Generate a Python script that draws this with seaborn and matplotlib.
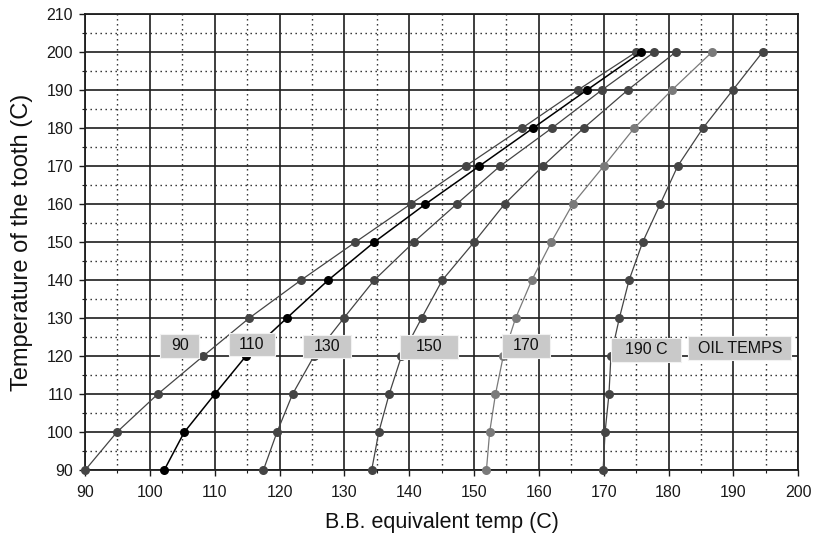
import matplotlib
matplotlib.use("Agg")
import matplotlib.pyplot as plt
from matplotlib.patches import Rectangle
from matplotlib.ticker import MultipleLocator
import numpy as np
import pandas as pd
import seaborn as sns

# ---- data ----
tooth_temp = [90, 100, 110, 120, 130, 140, 150, 160, 170, 180, 190, 200]
bb_oil90 = [90.0, 94.9, 101.2, 108.2, 115.3, 123.3, 131.7, 140.2, 148.7, 157.4, 166.0, 175.0]
bb_oil110 = [102.2, 105.3, 110.0, 114.8, 121.1, 127.5, 134.6, 142.5, 150.8, 159.1, 167.4, 175.8]
bb_oil130 = [117.5, 119.6, 122.0, 125.3, 129.9, 134.6, 140.7, 147.3, 154.0, 162.0, 169.7, 177.8]
bb_oil150 = [134.2, 135.3, 136.9, 138.8, 141.9, 145.1, 150.0, 154.7, 160.6, 166.9, 173.7, 181.1]
bb_oil170 = [151.9, 152.4, 153.3, 154.5, 156.4, 158.9, 161.9, 165.2, 170.0, 174.7, 180.5, 186.7]
bb_oil190 = [169.9, 170.2, 170.8, 171.1, 172.4, 173.9, 176.0, 178.7, 181.4, 185.3, 189.9, 194.5]
oil_temps = [90, 110, 130, 150, 170, 190]
series = [bb_oil90, bb_oil110, bb_oil130, bb_oil150, bb_oil170, bb_oil190]

label_texts = ["90", "110", "130", "150", "170", "190 C", "OIL TEMPS"]
label_x = [104.6, 115.7, 127.3, 143.0, 158.0, 176.5, 191.0]
label_y = [122.7, 123.1, 122.6, 122.5, 122.7, 121.7, 122.1]
label_w = [6.0, 7.1, 7.5, 8.9, 7.5, 10.7, 15.9]

x_ticks = list(range(90, 201, 10))
y_ticks = list(range(90, 211, 10))

rows = []
for oil, vals in zip(oil_temps, series):
    for xv, yv in zip(vals, tooth_temp):
        rows.append({"bb": xv, "tooth": yv, "oil": oil})
df = pd.DataFrame(rows)

palette = {90: "#454545", 110: "#000000", 130: "#444444",
           150: "#444444", 170: "#7a7a7a", 190: "#454545"}

sns.set_style("white")
plt.rcParams["font.family"] = ["Liberation Sans", "DejaVu Sans"]

fig = plt.figure(figsize=(8.13, 5.37), dpi=100)
W, H = 813, 537
ax = fig.add_axes([85 / W, 1 - 470.3 / H, (798.3 - 85) / W, (470.3 - 14) / H])

for oil in oil_temps:
    sub = df[df["oil"] == oil]
    sns.lineplot(data=sub, x="bb", y="tooth", color=palette[oil], ax=ax,
                 marker="o", markersize=6.5, markeredgewidth=0,
                 linewidth=1.1 if oil == 110 else 0.9,
                 estimator=None, sort=False, legend=False, zorder=3,
                 clip_on=False)

ax.set_xlim(90, 200)
ax.set_ylim(90, 210)
ax.set_xticks(x_ticks)
ax.set_yticks(y_ticks)
ax.xaxis.set_minor_locator(MultipleLocator(5))
ax.yaxis.set_minor_locator(MultipleLocator(5))
ax.set_axisbelow(True)
ax.grid(which="major", color="#1e1e1e", linewidth=1.2, linestyle="-")
ax.grid(which="minor", color="#222222", linewidth=1.0, linestyle=(0, (1, 2.6)))
ax.tick_params(which="major", direction="out", length=4.5, width=1.0,
               labelsize=11.5, colors="#1a1a1a", bottom=True, left=True)
ax.tick_params(axis="x", which="major", pad=6)
ax.tick_params(axis="y", which="major", pad=4)
ax.tick_params(which="minor", direction="out", length=2.5, width=0.8,
               colors="#1a1a1a", bottom=True, left=True)
for sp in ax.spines.values():
    sp.set_color("#1e1e1e")
    sp.set_linewidth(1.3)

ax.set_xlabel("B.B. equivalent temp (C)", fontsize=15.5, color="#111111", labelpad=9)
ax.set_ylabel("Temperature of the tooth (C)", fontsize=17, color="#111111", labelpad=10)

box_h = 6.2
for t, cx, cy, w in zip(label_texts, label_x, label_y, label_w):
    ax.add_patch(Rectangle((cx - w / 2, cy - box_h / 2), w, box_h,
                           facecolor="#c9c9c9", edgecolor="#f2f2f2",
                           linewidth=0.8, zorder=5))
    ax.text(cx, cy, t, ha="center", va="center", fontsize=11.5,
            color="#111111", zorder=6)

fig.savefig("out.png", dpi=100)
